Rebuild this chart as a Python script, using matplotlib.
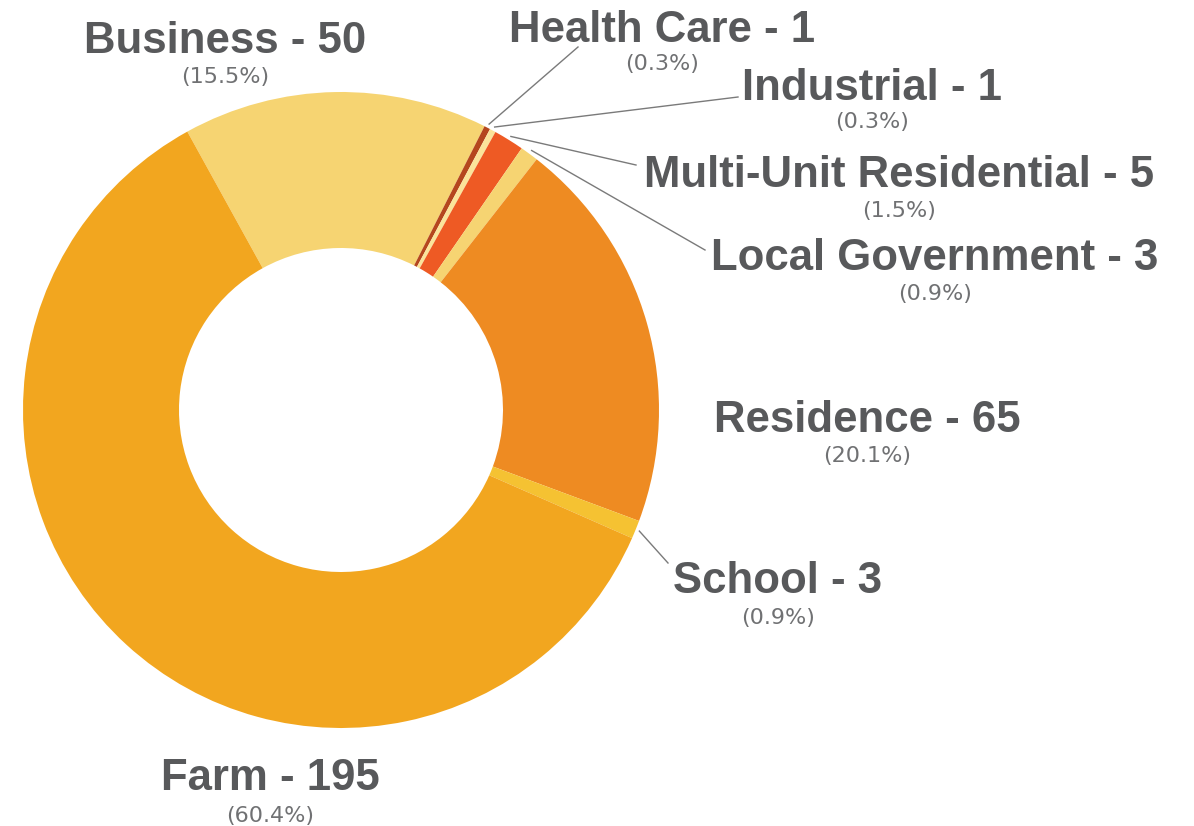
import matplotlib.pyplot as plt
import numpy as np

# Categories (clockwise from Business)
categories = ['Business', 'Health Care', 'Industrial', 'Multi-Unit Residential',
              'Local Government', 'Residence', 'School', 'Farm']
counts = [50, 1, 1, 5, 3, 65, 3, 195]
colors = ['#F6D472', '#B5471E', '#FBE49A', '#EE5A24',
          '#F6D472', '#EE8B22', '#F5C232', '#F2A61F']

W, H = 1194, 826
cx, cy = 341, H - 410
R_OUT, R_IN = 318, 162

# label layout: (center x, bold baseline, percent baseline) in pixels from top
label_pos = {
    'Business': (225, 53, 83),
    'Health Care': (662, 42, 70),
    'Industrial': (872, 100, 128),
    'Multi-Unit Residential': (899, 187, 217),
    'Local Government': (935, 270, 300),
    'Residence': (867, 432, 462),
    'School': (778, 593, 624),
    'Farm': (270, 790, 822),
}
# leader line ends near the labels (pixels from top)
leader_end = {
    'Health Care': (578, 47),
    'Industrial': (738, 97),
    'Multi-Unit Residential': (636, 165),
    'Local Government': (705, 250),
    'School': (668, 563),
}

fig = plt.figure(figsize=(11.94, 8.26), dpi=100)
ax = fig.add_axes([0, 0, 1, 1])

total = sum(counts)
wedges, _ = ax.pie(counts, colors=colors, startangle=118.9, counterclock=False,
                   center=(cx, cy), radius=R_OUT, frame=True,
                   wedgeprops=dict(width=R_OUT - R_IN, linewidth=0))
ax.set_xlim(0, W)
ax.set_ylim(0, H)
ax.axis('off')

for name, val, w in zip(categories, counts, wedges):
    x, yb, yp = label_pos[name]
    ax.text(x, H - yb, f'{name} - {val}', ha='center', va='baseline',
            fontsize=31.5, fontweight='bold', family='Liberation Sans', color='#58595B')
    ax.text(x, H - yp, f'({val / total * 100:.1f}%)', ha='center', va='baseline',
            fontsize=16, family='DejaVu Sans', color='#707173')
    if name in leader_end:
        mid = np.deg2rad((w.theta1 + w.theta2) / 2)
        x0 = cx + (R_OUT + 4) * np.cos(mid)
        y0 = cy + (R_OUT + 4) * np.sin(mid)
        ex, ey = leader_end[name]
        ax.plot([x0, ex], [y0, H - ey], color='#7A7A7A', lw=1)

fig.savefig('out.png', dpi=100)
